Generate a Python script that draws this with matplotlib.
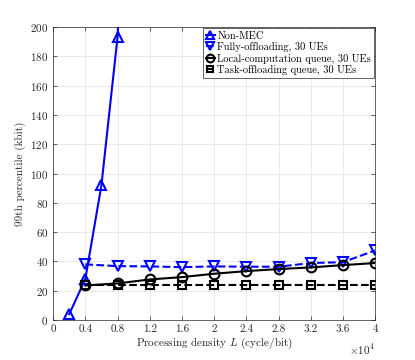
import matplotlib
matplotlib.use("Agg")
import matplotlib.pyplot as plt

plt.rcParams['font.family'] = 'serif'
plt.rcParams['font.serif'] = ['cmr10', 'DejaVu Serif']
plt.rcParams['mathtext.fontset'] = 'cm'
plt.rcParams['axes.formatter.use_mathtext'] = True

x_nonmec = [0.2, 0.4, 0.6, 0.8, 1.0]
y_nonmec = [4, 28, 92, 193, 420]
x_ue = [0.4, 0.8, 1.2, 1.6, 2.0, 2.4, 2.8, 3.2, 3.6, 4.0]
y_full = [38, 36.8, 36.6, 36.1, 36.6, 36.4, 36.4, 38.9, 39.5, 47.5]
y_local = [23.6, 25, 27.7, 29.3, 31.6, 33.4, 34.8, 35.9, 37.5, 38.9]
y_task = [24, 24, 24, 24, 24, 24, 24, 24, 24, 24]
xticks = [0, 0.4, 0.8, 1.2, 1.6, 2, 2.4, 2.8, 3.2, 3.6, 4]
xticklabels = ['0', '0.4', '0.8', '1.2', '1.6', '2', '2.4', '2.8', '3.2', '3.6', '4']
yticks = list(range(0, 201, 20))

fig = plt.figure(figsize=(4.15, 3.6), dpi=100)
ax = fig.add_axes([0.128, 0.111, 0.776, 0.814])
gray = '#262626'
lw = 1.5
ms = 7
ax.plot(x_nonmec, y_nonmec, '-', color='blue', marker='^', mfc='none', mew=1.5, ms=ms, lw=lw, label='Non-MEC')
ax.plot(x_ue, y_full, '--', color='blue', marker='v', mfc='none', mew=1.5, ms=ms, lw=lw, label='Fully-offloading, 30 UEs')
ax.plot(x_ue, y_local, '-', color='black', marker='o', mfc='none', mew=1.5, ms=ms, lw=lw, label='Local-computation queue, 30 UEs')
ax.plot(x_ue, y_task, '--', color='black', marker='s', mfc='none', mew=1.5, ms=6, lw=lw, label='Task-offloading queue, 30 UEs')

ax.set_xlim(0, 4)
ax.set_ylim(0, 200)
ax.set_xticks(xticks)
ax.set_xticklabels(xticklabels)
ax.set_yticks(yticks)
ax.tick_params(direction='in', top=True, right=True, labelsize=8, colors=gray, length=3, width=0.5)
for s in ax.spines.values():
    s.set_color(gray)
    s.set_linewidth(0.5)
ax.grid(True, color='#e6e6e6', lw=0.6)
ax.set_axisbelow(True)
ax.set_xlabel('Processing density $L$ (cycle/bit)', fontsize=8, color=gray, labelpad=1)
ax.set_ylabel('99th percentile (kbit)', fontsize=8, color=gray, labelpad=3)
ax.text(1.0, -0.075, r'$\times10^4$', transform=ax.transAxes, ha='right', va='top', fontsize=8, color=gray)

leg = ax.legend(loc='upper right', fontsize=7.5, handlelength=0.9, handletextpad=0.2,
                borderpad=0.3, labelspacing=0.12, borderaxespad=0.1, fancybox=False,
                framealpha=1, edgecolor=gray, markerscale=0.8)
leg.get_frame().set_linewidth(0.5)

fig.savefig('out.png', dpi=100)
